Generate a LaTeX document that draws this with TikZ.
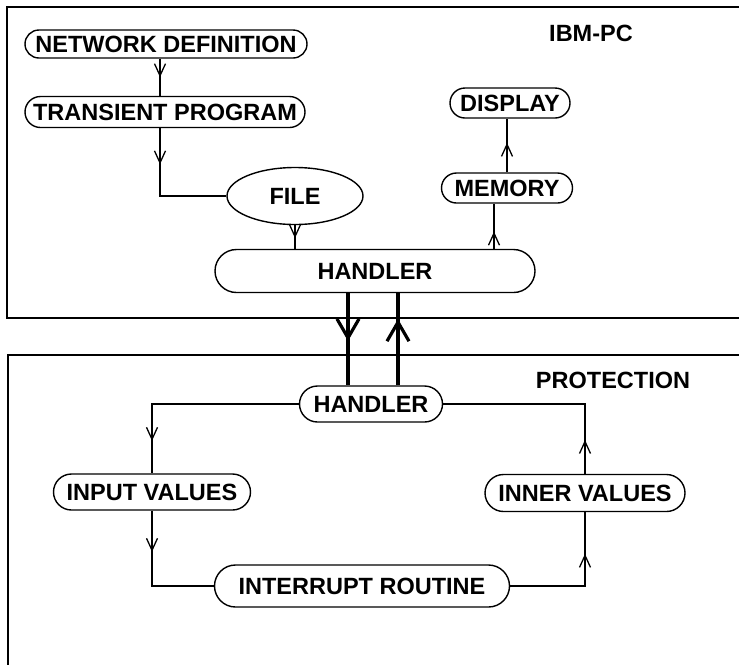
\documentclass[tikz,border=0pt]{standalone}
\usepackage{fontspec}
\setmainfont{Liberation Sans}
\usepackage{tikz}
\usetikzlibrary{arrows.meta, shapes.misc, shapes.geometric, decorations.markings}
\newcommand{\boxfont}{\fontsize{23.5}{27}\selectfont\bfseries}

\tikzset{
  pill/.style={draw, rounded rectangle, line width=1.4pt, inner sep=0pt,
    text height=17pt, text depth=0pt, font=\boxfont},
  oval/.style={draw, ellipse, line width=1.4pt, inner sep=0pt,
    text height=17pt, text depth=0pt, font=\boxfont},
  flow/.style={line width=1.2pt, decoration={markings,
    mark=at position #1 with {\arrow{Straight Barb[length=12pt, width=11pt, line width=1.3pt]}}},
    postaction={decorate}},
  bigflow/.style={line width=3.2pt, decoration={markings,
    mark=at position #1 with {\arrow{Straight Barb[length=19pt, width=22pt, line width=3.2pt]}}},
    postaction={decorate}},
  frame/.style={line width=2pt},
  title/.style={font=\boxfont}
}

\begin{document}
\begin{tikzpicture}[x=1pt, y=-1pt]
    \useasboundingbox (0,0) rectangle (739,665);

    % Two frames, open to the right
    \draw[frame] (739,7) -- (7,7) -- (7,318) -- (739,318);
    \draw[frame] (739,355) -- (8,355) -- (8,665);

    % IBM-PC side
    \node[title] (ibm) at (591,33) {IBM-PC};
    \node[pill, minimum width=282pt, minimum height=28pt] (netdef) at (166,44) {NETWORK DEFINITION};
    \node[pill, minimum width=280pt, minimum height=31pt] (transient) at (165,112) {TRANSIENT PROGRAM};
    \node[oval, minimum width=136pt, minimum height=57pt] (file) at (295,196) {FILE};
    \node[pill, minimum width=320pt, minimum height=43pt] (handlerA) at (375,271) {HANDLER};
    \node[pill, minimum width=131pt, minimum height=30pt] (memory) at (507,188) {MEMORY};
    \node[pill, minimum width=120pt, minimum height=30pt] (display) at (510,103) {DISPLAY};

    \coordinate (netout) at ([xshift=-6pt]netdef.south);
    \draw[flow=.5] (netout) -- (netout |- transient.north);
    \draw[flow=.27] (netout |- transient.south) |- (file.west);
    \draw[flow=.55] (file.south) -- (file.south |- handlerA.north);
    \coordinate (memin) at ([xshift=-13pt]memory.south);
    \draw[flow=.38] (memin |- handlerA.north) -- (memin);
    \draw[flow=.55] (memory.north) -- (memory.north |- display.south);

    % Protection side
    \node[title] (protect) at (613,380) {PROTECTION};
    \node[pill, minimum width=143pt, minimum height=36pt] (handlerB) at (371,404) {HANDLER};
    \node[pill, minimum width=197pt, minimum height=36pt] (input) at (152,492) {INPUT VALUES};
    \node[pill, minimum width=200pt, minimum height=37pt] (inner) at (585,493) {INNER VALUES};
    \node[pill, minimum width=295pt, minimum height=42pt] (interrupt) at (362,586) {INTERRUPT ROUTINE};

    \draw[flow=.85] (handlerB.west) -| (input.north);
    \draw[flow=.3] (input.south) |- (interrupt.west);
    \draw[flow=.72] (interrupt.east) -| (inner.south);
    \draw[flow=.16] (inner.north) |- (handlerB.east);

    % Link between the two handlers
    \coordinate (down) at ([xshift=-23pt]handlerB.north);
    \coordinate (back) at ([xshift=27pt]handlerB.north);
    \draw[bigflow=.52] (down |- handlerA.south) -- (down);
    \draw[bigflow=.72] (back) -- (back |- handlerA.south);
\end{tikzpicture}
\end{document}
